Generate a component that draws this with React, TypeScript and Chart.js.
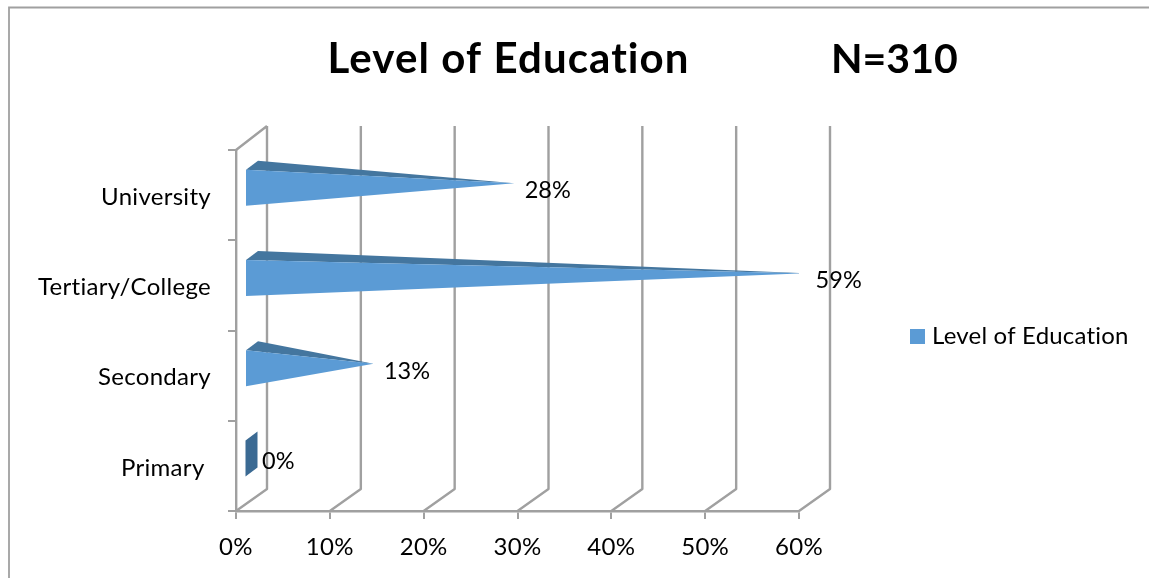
import { useEffect, useRef } from "react";
import { Chart, registerables, BarController, BarElement } from "chart.js";

Chart.register(...registerables);

// Survey results
const categories = ["University", "Tertiary/College", "Secondary", "Primary "];
const shares = [28, 59, 13, 0];
const seriesName = "Level of Education";
const titleLeft = "Level of Education";
const titleRight = "N=310";

const FONT = "Lato, 'Noto Sans', sans-serif";
const FRONT = "#5B9BD5";
const TOP = "#44769F";
const SLAB = "#3B6A93";
const GRID = "#A0A0A0";
const INK = "#000000";

// Depth of the walls behind the plot, and the bar's placement inside that depth
const WALL_DX = 31;
const WALL_DY = -22;
const BAR_DX = 9;
const BAR_DY = -7.5;
const BAR_DEPTH_X = 12;
const BAR_DEPTH_Y = -9;

function poly(ctx: CanvasRenderingContext2D, pts: number[][], fill: string) {
  ctx.beginPath();
  pts.forEach(([x, y], i) => (i ? ctx.lineTo(x, y) : ctx.moveTo(x, y)));
  ctx.closePath();
  ctx.fillStyle = fill;
  ctx.fill();
}

// Horizontal bar drawn as a pyramid lying on its side
class PyramidElement extends BarElement {
  static id = "pyramidBar";
  draw(ctx: CanvasRenderingContext2D) {
    const { x, y, base, height } = this as any;
    const left = base + BAR_DX;
    const top = y - height / 2 + BAR_DY;
    const bottom = y + height / 2 + BAR_DY;
    ctx.save();
    if (x - base < 1) {
      poly(
        ctx,
        [
          [left + 0.5, top],
          [left + BAR_DEPTH_X + 0.5, top + BAR_DEPTH_Y],
          [left + BAR_DEPTH_X + 0.5, bottom + BAR_DEPTH_Y],
          [left + 0.5, bottom],
        ],
        SLAB
      );
    } else {
      const apex = [x + BAR_DX + BAR_DEPTH_X / 2 + 0.5, (top + bottom) / 2 + BAR_DEPTH_Y / 2];
      poly(ctx, [[left, top], [left + BAR_DEPTH_X, top + BAR_DEPTH_Y], apex], TOP);
      poly(ctx, [[left, top], [left, bottom], apex], FRONT);
    }
    ctx.restore();
  }
}

class PyramidController extends BarController {
  static id = "pyramidBar";
  static defaults = { dataElementType: "pyramidBar" };
}

Chart.register(PyramidElement, PyramidController);

const frame = {
  id: "frame",
  afterUpdate(chart: any) {
    // category labels sit slightly below their band centres
    chart.scales.y.getLabelItems().forEach((item: any) => {
      item.options.translation[1] += 2;
    });
  },
  beforeDraw(chart: any) {
    const { ctx, width, height } = chart;
    ctx.save();
    ctx.strokeStyle = GRID;
    ctx.lineWidth = 1.8;
    ctx.beginPath();
    ctx.moveTo(9, height);
    ctx.lineTo(9, 7.5);
    ctx.lineTo(width, 7.5);
    ctx.stroke();
    ctx.restore();
    // a small tracking value also turns off the ti ligature for axis text
    ctx.letterSpacing = "0.3px";
  },
};

const walls = {
  id: "walls",
  beforeDatasetsDraw(chart: any) {
    const { ctx, chartArea, scales } = chart;
    ctx.save();
    ctx.strokeStyle = GRID;
    ctx.lineWidth = 2.4;
    ctx.lineJoin = "round";
    ctx.beginPath();
    scales.x.ticks.forEach((t: any) => {
      const x = scales.x.getPixelForValue(t.value);
      ctx.moveTo(x, chartArea.bottom);
      ctx.lineTo(x + WALL_DX, chartArea.bottom + WALL_DY);
      ctx.lineTo(x + WALL_DX, chartArea.top + WALL_DY - 2);
    });
    ctx.moveTo(chartArea.left, chartArea.top);
    ctx.lineTo(chartArea.left + WALL_DX, chartArea.top + WALL_DY - 2);
    ctx.stroke();
    ctx.restore();
  },
};

const annotations = {
  id: "annotations",
  afterDatasetsDraw(chart: any) {
    const { ctx } = chart;
    const ds = chart.data.datasets[0];
    const meta = chart.getDatasetMeta(0);
    ctx.save();
    ctx.fillStyle = INK;
    ctx.textBaseline = "middle";
    ctx.textAlign = "left";

    // value labels
    ctx.letterSpacing = "0px";
    ctx.font = `23.5px ${FONT}`;
    meta.data.forEach((bar: any, i: number) => {
      ctx.fillText(`${ds.data[i]}%`, bar.x + 26, bar.y - 4.5);
    });

    // legend
    ctx.fillStyle = ds.backgroundColor;
    ctx.fillRect(910, 329, 15, 15);
    ctx.fillStyle = INK;
    ctx.letterSpacing = "0.2px";
    ctx.font = `24px ${FONT}`;
    ctx.fillText(ds.label, 932, 336.5);

    // heading
    ctx.letterSpacing = "1.1px";
    ctx.font = `bold 42px ${FONT}`;
    ctx.fillText(titleLeft, 327.5, 59.5);
    ctx.letterSpacing = "0px";
    ctx.font = `bold 41px ${FONT}`;
    ctx.fillText(titleRight, 831, 59.5);
    ctx.restore();
  },
};

export default function App() {
  const ref = useRef<HTMLCanvasElement>(null);
  useEffect(() => {
    const chart = new Chart(ref.current as HTMLCanvasElement, {
      type: "pyramidBar" as any,
      data: {
        labels: categories,
        datasets: [
          {
            label: seriesName,
            data: shares,
            backgroundColor: FRONT,
            barThickness: 36,
          } as any,
        ],
      },
      plugins: [frame, walls, annotations],
      options: {
        indexAxis: "y",
        animation: false,
        responsive: false,
        layout: { padding: { top: 150, right: 350, left: 0, bottom: 0 } },
        plugins: {
          legend: { display: false },
          title: { display: false },
          tooltip: { enabled: false },
        },
        scales: {
          x: {
            min: 0,
            max: 60,
            ticks: {
              stepSize: 10,
              color: INK,
              font: { family: FONT, size: 24 },
              padding: 14,
              maxRotation: 0,
              callback: (v: any) => `${v}%`,
            },
            grid: { drawOnChartArea: false, color: GRID, lineWidth: 2, tickLength: 8 },
            border: { color: GRID, width: 2.4 },
            afterFit: (s: any) => {
              s.height = 67;
            },
          },
          y: {
            ticks: {
              color: INK,
              font: { family: FONT, size: 24 },
              padding: 17,
            },
            grid: { drawOnChartArea: false, color: GRID, lineWidth: 2, tickLength: 8, offset: true },
            border: { color: GRID, width: 2.4 },
            afterFit: (s: any) => {
              s.width = 236;
            },
          },
        },
      } as any,
    });
    return () => chart.destroy();
  }, []);
  return (
    <div style={{ position: "fixed", left: 0, top: 0, background: "#fff" }}>
      <canvas ref={ref} width={1149} height={578} style={{ display: "block" }} />
    </div>
  );
}
